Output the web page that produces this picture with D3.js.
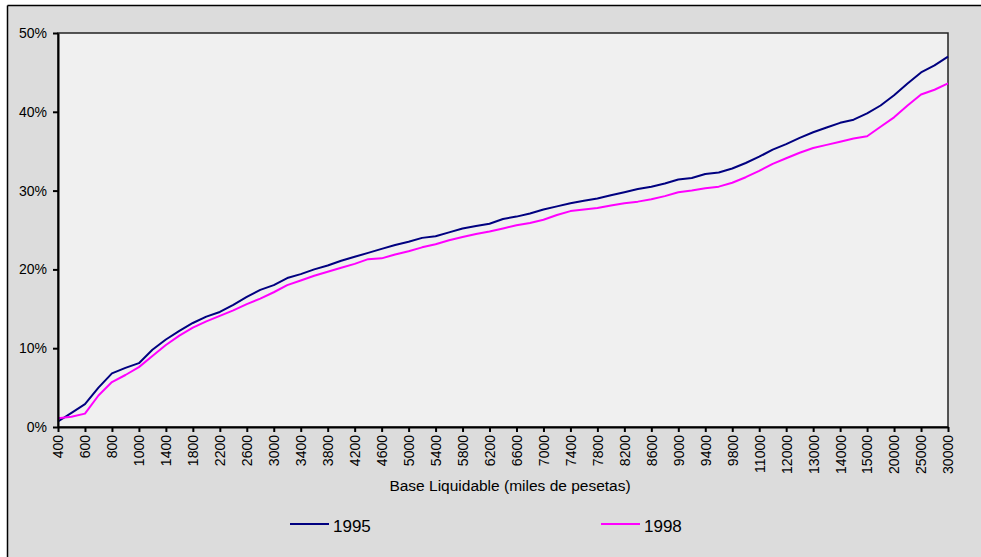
<!DOCTYPE html>
<html>
<head>
<meta charset="utf-8">
<script src="https://cdn.jsdelivr.net/npm/d3@7"></script>
<style>
  html, body { margin: 0; padding: 0; background: #dcdcdc; overflow: hidden; }
  svg { display: block; }
  text { font-family: Arial, "Liberation Sans", sans-serif; fill: #000; }
</style>
</head>
<body>
<svg id="chart" width="981" height="557"></svg>
<script>
// Categories (half steps between the labelled ones)
const categories = [
  "400","500","600","700","800","900","1000","1200","1400","1600","1800","2000","2200","2400",
  "2600","2800","3000","3200","3400","3600","3800","4000","4200","4400","4600","4800","5000",
  "5200","5400","5600","5800","6000","6200","6400","6600","6800","7000","7200","7400","7600",
  "7800","8000","8200","8400","8600","8800","9000","9200","9400","9600","9800","10400","11000",
  "11500","12000","12500","13000","13500","14000","14500","15000","17500","20000","22500",
  "25000","27500","30000"
];
const tickLabels = [
  "400","600","800","1000","1400","1800","2200","2600","3000","3400","3800","4200","4600",
  "5000","5400","5800","6200","6600","7000","7400","7800","8200","8600","9000","9400","9800",
  "11000","12000","13000","14000","15000","20000","25000","30000"
];
const yTicks = [0, 0.1, 0.2, 0.3, 0.4, 0.5];

// Series values (%)
const values1995 = [
  0.7,1.8,2.9,5.0,6.8,7.5,8.1,9.8,11.1,12.2,13.2,14.0,14.6,15.5,
  16.5,17.4,18.0,18.9,19.4,20.0,20.5,21.1,21.6,22.1,22.6,23.1,23.5,
  24.0,24.2,24.7,25.2,25.5,25.8,26.4,26.7,27.1,27.6,28.0,28.4,28.7,
  29.0,29.4,29.8,30.2,30.5,30.9,31.4,31.6,32.1,32.3,32.8,33.5,34.3,
  35.2,35.9,36.7,37.4,38.0,38.6,39.0,39.8,40.8,42.1,43.6,
  45.0,45.9,47.0
];
const values1998 = [
  1.1,1.3,1.7,4.0,5.7,6.6,7.6,9.0,10.4,11.6,12.6,13.4,14.1,14.8,
  15.6,16.3,17.1,18.0,18.6,19.2,19.7,20.2,20.7,21.3,21.4,21.9,22.3,
  22.8,23.2,23.7,24.1,24.5,24.8,25.2,25.6,25.9,26.3,26.9,27.4,27.6,
  27.8,28.1,28.4,28.6,28.9,29.3,29.8,30.0,30.3,30.5,31.0,31.7,32.5,
  33.4,34.1,34.8,35.4,35.8,36.2,36.6,36.9,38.1,39.3,40.8,
  42.2,42.8,43.6
];
const seriesNames = ["1995", "1998"];
const seriesColors = ["#000080", "#ff00ff"];

const svg = d3.select("#chart");

// white margin outside the chart frame, then the frame's top and left edges
svg.append("rect").attr("x", 0).attr("y", 0).attr("width", 981).attr("height", 6).attr("fill", "#fff");
svg.append("rect").attr("x", 0).attr("y", 0).attr("width", 7).attr("height", 557).attr("fill", "#fff");
svg.append("line")
  .attr("x1", 7.5).attr("x2", 981).attr("y1", 5.5).attr("y2", 5.5)
  .attr("stroke", "#000").attr("stroke-width", 1.5);
svg.append("line")
  .attr("x1", 7.5).attr("x2", 7.5).attr("y1", 5.5).attr("y2", 557)
  .attr("stroke", "#000").attr("stroke-width", 1.5);

const mLeft = 58, mRight = 948, mTop = 33, mBottom = 427;

const x = d3.scalePoint().domain(categories).range([mLeft, mRight]);
const y = d3.scaleLinear().domain([0, 0.5]).range([mBottom, mTop]);

// plot area
svg.append("rect")
  .attr("x", mLeft).attr("y", mTop)
  .attr("width", mRight - mLeft).attr("height", mBottom - mTop)
  .attr("fill", "#f0f0f0")
  .attr("stroke", "#222").attr("stroke-width", 1.5);

// lines
const line = d3.line()
  .x((d, i) => x(categories[i]))
  .y(d => y(d / 100));

[values1995, values1998].forEach((vals, k) => {
  svg.append("path")
    .datum(vals)
    .attr("fill", "none")
    .attr("stroke", seriesColors[k])
    .attr("stroke-width", 2)
    .attr("stroke-linejoin", "round")
    .attr("d", line);
});

// y axis
const yAxis = d3.axisLeft(y)
  .tickValues(yTicks)
  .tickFormat(d3.format(".0%"))
  .tickSize(5)
  .tickSizeOuter(0);
const gy = svg.append("g").attr("transform", `translate(${mLeft},0)`).call(yAxis);
gy.select(".domain").attr("stroke", "#000").attr("stroke-width", 2);
gy.selectAll(".tick line").attr("stroke", "#000").attr("stroke-width", 2);
gy.selectAll(".tick text")
  .attr("x", -11)
  .attr("font-size", 14)
  .attr("font-family", "Arial, 'Liberation Sans', sans-serif");

// x axis
const xAxis = d3.axisBottom(x)
  .tickValues(tickLabels)
  .tickSize(5)
  .tickSizeOuter(0);
const gx = svg.append("g").attr("transform", `translate(0,${mBottom})`).call(xAxis);
gx.select(".domain").attr("stroke", "#000").attr("stroke-width", 2);
gx.selectAll(".tick line").attr("stroke", "#000").attr("stroke-width", 2);
gx.selectAll(".tick text")
  .attr("transform", "rotate(-90)")
  .attr("text-anchor", "end")
  .attr("x", -8)
  .attr("y", 0)
  .attr("dy", "0.35em")
  .attr("font-size", 14)
  .attr("font-family", "Arial, 'Liberation Sans', sans-serif");

// axis title
svg.append("text")
  .attr("x", 510).attr("y", 491)
  .attr("text-anchor", "middle")
  .attr("font-size", 15.5)
  .text("Base Liquidable (miles de pesetas)");

// legend
const legendX = [290, 601];
seriesNames.forEach((name, k) => {
  svg.append("line")
    .attr("x1", legendX[k]).attr("x2", legendX[k] + 39)
    .attr("y1", 524).attr("y2", 524)
    .attr("stroke", seriesColors[k]).attr("stroke-width", 2);
  svg.append("text")
    .attr("x", legendX[k] + 43).attr("y", 532)
    .attr("font-size", 17)
    .text(name);
});
</script>
</body>
</html>
